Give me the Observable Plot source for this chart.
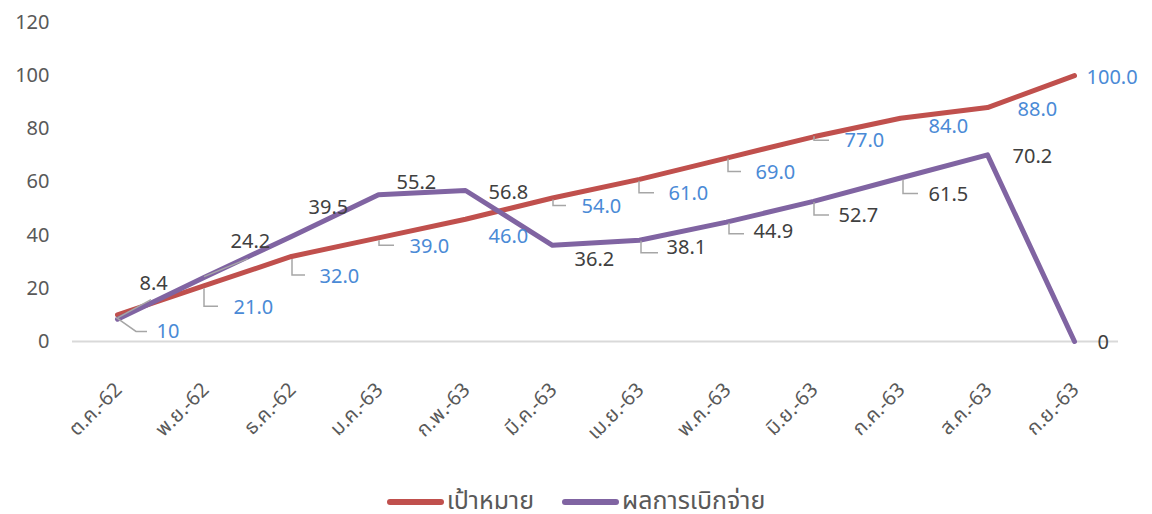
<!DOCTYPE html>
<html>
<head>
<meta charset="utf-8">
<script src="https://cdn.jsdelivr.net/npm/d3@7"></script>
<script src="https://cdn.jsdelivr.net/npm/@observablehq/plot@0.6"></script>
<style>
  html, body { margin: 0; padding: 0; background: #fff; }
  body { width: 1152px; height: 514px; overflow: hidden; position: relative; font-family: "Noto Sans", "Noto Sans Thai", "Open Sans", sans-serif; }
  #legend { position: absolute; left: 0; right: 0; top: 489px; height: 20px; display: flex; justify-content: center; align-items: center; gap: 28px; color: #595959; font-size: 25px; line-height: 20px; }
  .item { display: flex; align-items: center; gap: 3px; height: 20px; }
  .item span { display: block; height: 20px; line-height: 20px; }
  .sw { width: 57px; height: 6px; border-radius: 3px; position: relative; top: 3px; }
</style>
</head>
<body>
<div id="chart"></div>
<div id="legend"></div>
<script>
// ---- data ----
const months = ["ต.ค.-62","พ.ย.-62","ธ.ค.-62","ม.ค.-63","ก.พ.-63","มี.ค.-63","เม.ย.-63","พ.ค.-63","มิ.ย.-63","ก.ค.-63","ส.ค.-63","ก.ย.-63"];
const target = [10, 21, 32, 39, 46, 54, 61, 69, 77, 84, 88, 100];
const actual = [8.4, 24.2, 39.5, 55.2, 56.8, 36.2, 38.1, 44.9, 52.7, 61.5, 70.2, 0];
const targetLabels = ["10","21.0","32.0","39.0","46.0","54.0","61.0","69.0","77.0","84.0","88.0","100.0"];
const actualLabels = ["8.4","24.2","39.5","55.2","56.8","36.2","38.1","44.9","52.7","61.5","70.2","0"];
const yTicks = [0, 20, 40, 60, 80, 100, 120];
const seriesNames = ["เป้าหมาย", "ผลการเบิกจ่าย"];

// ---- label layout (pixel offsets from each point) ----
const targetLabelOffsets = [[39,17],[29,22],[28,20],[31,9],[23,17],[29,9],[29,14],[29,15],[31,4],[28,8],[30,2],[12,2]];
const actualLabelOffsets = [[22,-36],[26,-36],[17,-29],[18,-12],[23,2],[22,14],[27,7],[27,9],[25,14],[28,17],[25,2],[23,1]];
const targetLeaders = [
  [[-1,3],[19,17],[30,17]], [[0,3],[0,21],[14,21]], [[1,3],[1,19],[14,19]], [[1,3],[1,8],[16,8]],
  null, [[1,2],[1,8],[14,8]], [[0,2],[0,14],[15,14]], [[2,1],[2,14],[15,14]], [[1,0],[1,4],[16,4]],
  null, null, null
];
const actualLeaders = [
  [[1,-1],[34,-19]], [[0,0],[44,-18]], null, null, null, null,
  [[2,1],[2,13],[19,13]], [[3,1],[3,12],[18,12]], [[1,1],[1,14],[16,14]], [[3,2],[3,16],[18,16]],
  null, null
];

const colors = ["#C0504D", "#8064A2"];
const labelColors = ["#4A8AD6", "#404040"];

const rows = [];
months.forEach((m, i) => {
  rows.push({month: m, series: seriesNames[0], value: target[i]});
});
months.forEach((m, i) => {
  rows.push({month: m, series: seriesNames[1], value: actual[i]});
});

const idx = d3.range(months.length);
const font = "Noto Sans, Noto Sans Thai, Open Sans, sans-serif";

function labelMarks(values, labels, offsets, color) {
  return idx.map(i => Plot.text([i], {
    x: d => months[d], y: d => values[d], text: d => labels[d],
    dx: offsets[i][0], dy: offsets[i][1], textAnchor: "start",
    fill: color, fontSize: 20, fontFamily: font
  }));
}

const plot = Plot.plot({
  width: 1152,
  height: 470,
  marginLeft: 72,
  marginRight: 34,
  marginTop: 22,
  marginBottom: 129,
  style: {fontFamily: font, color: "#595959", background: "#fff"},
  x: {type: "point", domain: months, padding: 0.5, align: 0.5, label: null},
  y: {domain: [0, 120], label: null},
  marks: [
    Plot.ruleY([0], {stroke: "#D9D9D9", strokeWidth: 2}),
    Plot.axisY({ticks: yTicks, tickSize: 0, tickPadding: 23, fontSize: 20, label: null}),
    Plot.axisX({tickSize: 0, tickRotate: -45, tickPadding: 32, dy: 13, dx: 1, fontSize: 20, label: null}),
    Plot.line(rows, {x: "month", y: "value", z: "series", stroke: "series", strokeWidth: 5, strokeLinejoin: "round", strokeLinecap: "round"}),
    ...labelMarks(target, targetLabels, targetLabelOffsets, labelColors[0]),
    ...labelMarks(actual, actualLabels, actualLabelOffsets, labelColors[1])
  ],
  color: {domain: seriesNames, range: colors}
});

// leader lines, positioned through the plot's own scales
const sx = plot.scale("x"), sy = plot.scale("y");
const svg = d3.select(plot.tagName === "svg" ? plot : plot.querySelector("svg"));
const g = svg.append("g").attr("fill", "none").attr("stroke", "#A6A6A6").attr("stroke-width", 1.5);
function drawLeaders(values, leaders) {
  idx.forEach(i => {
    const L = leaders[i];
    if (!L) return;
    const px = sx.apply(months[i]), py = sy.apply(values[i]);
    g.append("path").attr("d", "M" + L.map(([dx, dy]) => (px + dx) + "," + (py + dy)).join("L"));
  });
}
drawLeaders(target, targetLeaders);
drawLeaders(actual, actualLeaders);

document.getElementById("chart").appendChild(plot);

const legend = document.getElementById("legend");
seriesNames.forEach((n, i) => {
  const it = document.createElement("div"); it.className = "item";
  const sw = document.createElement("div"); sw.className = "sw"; sw.style.background = colors[i];
  const tx = document.createElement("span"); tx.textContent = n;
  it.appendChild(sw); it.appendChild(tx); legend.appendChild(it);
});
</script>
</body>
</html>
